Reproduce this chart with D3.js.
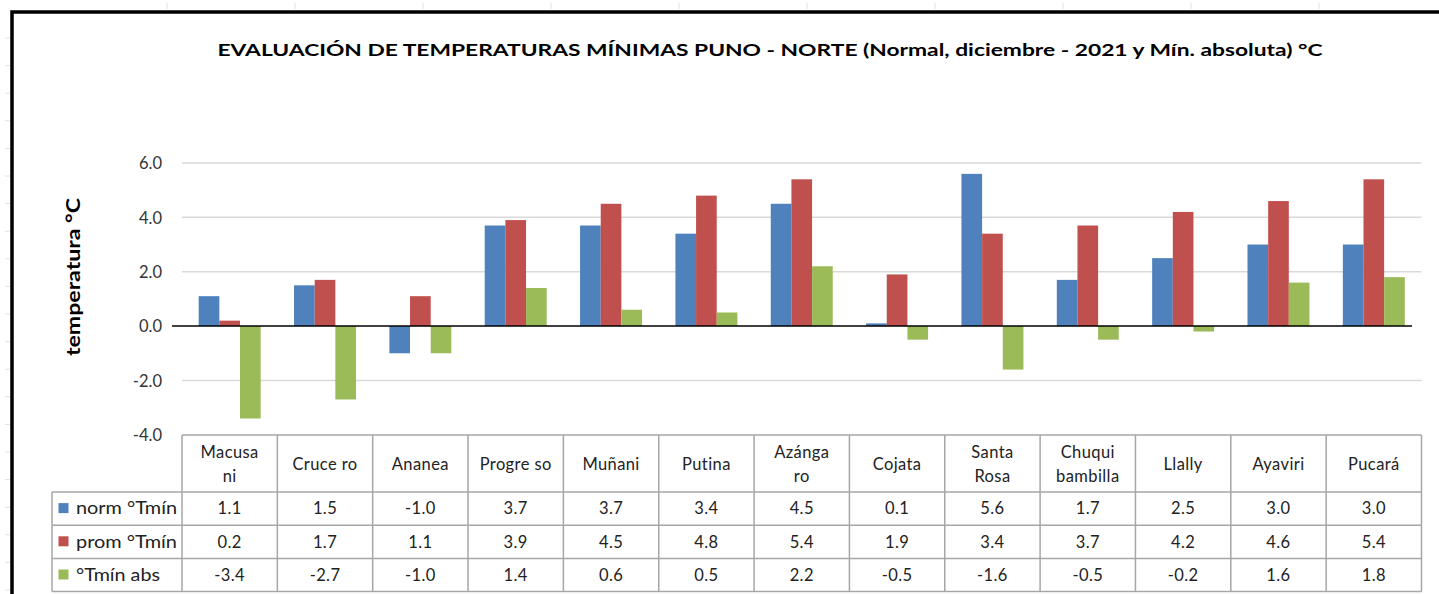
<!DOCTYPE html>
<html><head><meta charset="utf-8">
<script src="https://cdn.jsdelivr.net/npm/d3@7"></script>
<style>
html,body{margin:0;padding:0;background:#fff;}
svg{display:block;font-family:Lato,"Open Sans",sans-serif;}
</style></head>
<body><svg id="chart" width="1439" height="594"></svg>
<script>
// ---- data ----
const categories = ["Macusani","Crucero","Ananea","Progreso","Muñani","Putina","Azángaro","Cojata","Santa Rosa","Chuquibambilla","Llally","Ayaviri","Pucará"];
const categoryLines = [["Macusa","ni"],["Cruce ro"],["Ananea"],["Progre so"],["Muñani"],["Putina"],["Azánga","ro"],["Cojata"],["Santa","Rosa"],["Chuqui","bambilla"],["Llally"],["Ayaviri"],["Pucará"]];
const seriesNames = ["norm °Tmín","prom °Tmín","°Tmín abs"];
const normTmin = [1.1,1.5,-1.0,3.7,3.7,3.4,4.5,0.1,5.6,1.7,2.5,3.0,3.0];
const promTmin = [0.2,1.7,1.1,3.9,4.5,4.8,5.4,1.9,3.4,3.7,4.2,4.6,5.4];
const absTmin  = [-3.4,-2.7,-1.0,1.4,0.6,0.5,2.2,-0.5,-1.6,-0.5,-0.2,1.6,1.8];
const yTicks = [-4,-2,0,2,4,6];
const colors = ["#4F81BD","#C0504D","#9BBB59"];
const titleText = "EVALUACIÓN DE TEMPERATURAS MÍNIMAS PUNO - NORTE (Normal, diciembre - 2021 y  Mín. absoluta) °C";
const yTitle = "temperatura °C";

const series = [normTmin, promTmin, absTmin];
const fmt = v => v.toFixed(1);
const svg = d3.select("#chart");
const tableFont = 16.5;
const legendLen = [101,101,84];

// faint sheet cell marks outside the chart frame
const sheet = svg.append("g").attr("stroke","#e0e0e0").attr("stroke-width",1);
for (let x = 167; x < 1439; x += 128) sheet.append("line").attr("x1",x).attr("x2",x).attr("y1",3).attr("y2",9);
for (let y = 38; y < 594; y += 27.6) sheet.append("line").attr("x1",5).attr("x2",10).attr("y1",y).attr("y2",y);

// frame
svg.append("path").attr("d","M12,594 L12,12 L1439,12").attr("fill","none").attr("stroke","#000").attr("stroke-width",3.5);

// scales
const x = d3.scaleBand().domain(categories).range([182,1421.5]).paddingInner(0).paddingOuter(0);
const y = d3.scaleLinear().domain([-4,6]).range([434.8,163]);
const bw = x.bandwidth();
const xs = d3.scaleBand().domain(d3.range(3)).range([bw*0.175, bw*0.825]).padding(0);

// title
svg.append("text").attr("x",770).attr("y",56).attr("text-anchor","middle")
  .attr("font-size",17.5).attr("font-weight","bold").attr("fill","#000")
  .attr("textLength",1105).attr("lengthAdjust","spacingAndGlyphs").text(titleText);

// y title
svg.append("text").attr("transform","translate(80,277) rotate(-90)").attr("text-anchor","middle")
  .attr("font-size",18.5).attr("font-weight","bold").attr("fill","#000")
  .attr("textLength",158).attr("lengthAdjust","spacingAndGlyphs").text(yTitle);

// gridlines
svg.append("g").selectAll("line").data(yTicks.filter(d=>d!==0 && d!==-4)).join("line")
  .attr("x1",182).attr("x2",1421.5).attr("y1",d=>y(d)).attr("y2",d=>y(d))
  .attr("stroke","#d9d9d9").attr("stroke-width",1.5);

// y axis
const yAxis = svg.append("g").attr("transform","translate(165,0)")
  .call(d3.axisLeft(y).tickValues(yTicks).tickFormat(fmt).tickSize(0).tickPadding(3));
yAxis.select(".domain").remove();
yAxis.selectAll("text").attr("font-size",16.5).attr("fill","#333").attr("font-family","Lato,'Open Sans',sans-serif").attr("dy","0.35em");

// bars
const groups = svg.append("g").selectAll("g").data(categories).join("g")
  .attr("transform",d=>`translate(${x(d)},0)`);
groups.selectAll("rect").data((d,i)=>series.map((s,k)=>({k,v:s[i]}))).join("rect")
  .attr("x",d=>xs(d.k)).attr("width",xs.bandwidth())
  .attr("y",d=>y(Math.max(0,d.v))).attr("height",d=>Math.abs(y(d.v)-y(0)))
  .attr("fill",d=>colors[d.k]);

// zero axis line
svg.append("line").attr("x1",172).attr("x2",1412).attr("y1",y(0)).attr("y2",y(0))
  .attr("stroke","#000").attr("stroke-width",1.5);

// data table
const tTop = 435, hdrBot = 492, rowH = 33.2, legL = 52;
const rowTops = [hdrBot, hdrBot+rowH, hdrBot+2*rowH];
const tBot = hdrBot + 3*rowH;
const tbl = svg.append("g");
const gridStroke = "#a6a6a6";
tbl.append("line").attr("x1",182).attr("x2",1421.5).attr("y1",tTop).attr("y2",tTop).attr("stroke",gridStroke).attr("stroke-width",1.5);
[hdrBot, hdrBot+rowH, hdrBot+2*rowH, tBot].forEach(v=>{
  tbl.append("line").attr("x1",legL).attr("x2",1421.5).attr("y1",v).attr("y2",v).attr("stroke",gridStroke).attr("stroke-width",1.5);
});
tbl.append("line").attr("x1",legL).attr("x2",legL).attr("y1",hdrBot).attr("y2",tBot).attr("stroke",gridStroke).attr("stroke-width",1.5);
categories.forEach(c=>{
  tbl.append("line").attr("x1",x(c)).attr("x2",x(c)).attr("y1",tTop).attr("y2",tBot).attr("stroke",gridStroke).attr("stroke-width",1.5);
});
tbl.append("line").attr("x1",1421.5).attr("x2",1421.5).attr("y1",tTop).attr("y2",tBot).attr("stroke",gridStroke).attr("stroke-width",1.5);

// header labels
categories.forEach((c,i)=>{
  const lines = categoryLines[i];
  const cx = x(c) + bw/2;
  const ys = lines.length === 2 ? [452, 476.5] : [464.5];
  lines.forEach((ln,j)=>{
    tbl.append("text").attr("x",cx).attr("y",ys[j]).attr("dy","0.35em").attr("text-anchor","middle")
      .attr("font-size",tableFont).attr("letter-spacing",0.4).attr("fill","#222").text(ln);
  });
});

// rows
series.forEach((s,k)=>{
  const cy = rowTops[k] + rowH/2;
  tbl.append("rect").attr("x",58.5).attr("y",cy-5.5).attr("width",10).attr("height",10).attr("fill",colors[k]);
  tbl.append("text").attr("x",76).attr("y",cy).attr("dy","0.35em").attr("font-size",tableFont)
    .attr("fill","#222").attr("textLength",legendLen[k]).attr("lengthAdjust","spacingAndGlyphs").text(seriesNames[k]);
  categories.forEach((c,i)=>{
    tbl.append("text").attr("x",x(c)+bw/2).attr("y",cy).attr("dy","0.35em").attr("text-anchor","middle")
      .attr("font-size",tableFont).attr("letter-spacing",0.4).attr("fill","#222").text(fmt(s[i]));
  });
});
</script></body></html>
